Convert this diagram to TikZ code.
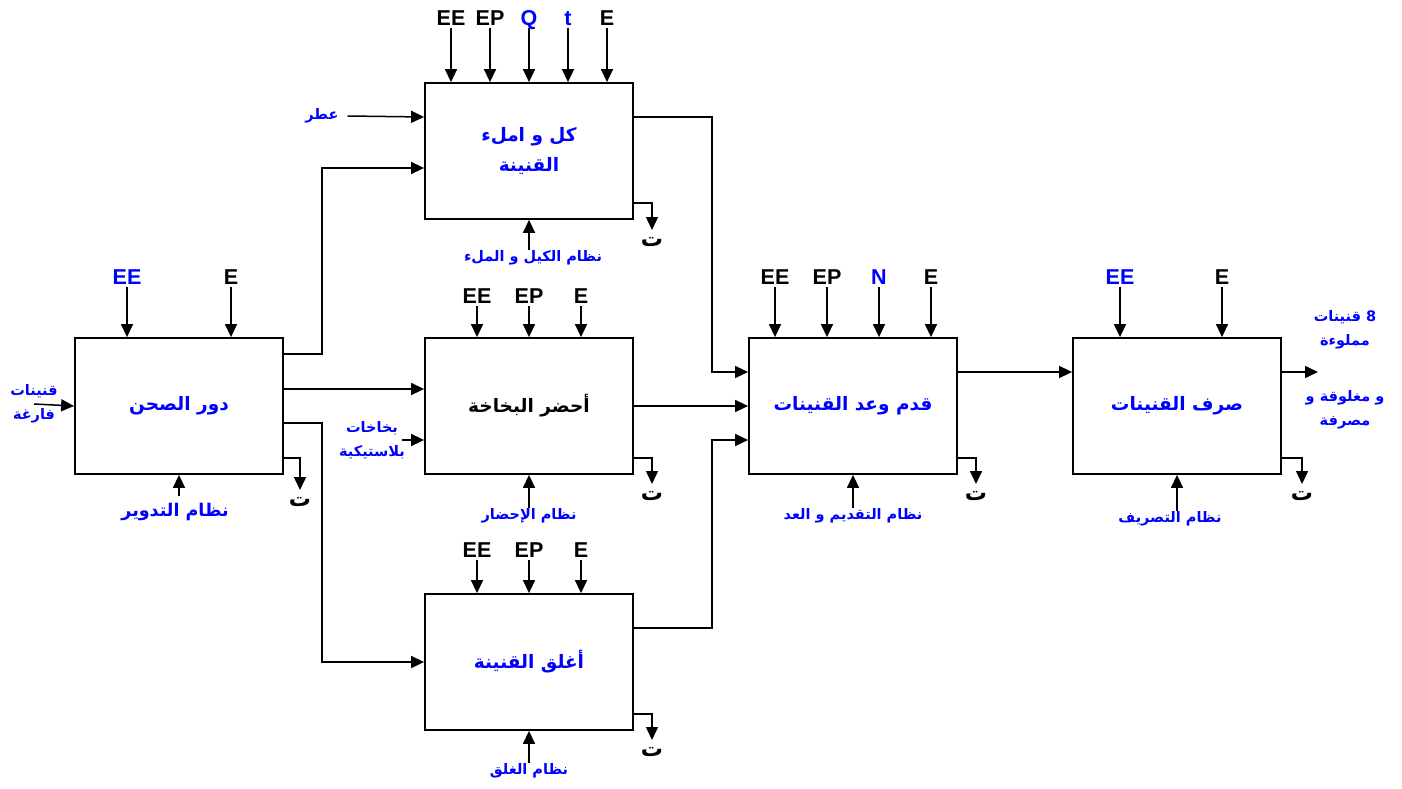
\documentclass[tikz,border=0pt]{standalone}
\usepackage{fontspec}
\setmainfont{Liberation Sans}
\newfontfamily\arabicfont[Script=Arabic]{DejaVu Sans}
\TeXXeTstate=1
\usetikzlibrary{arrows.meta}
\definecolor{pureblue}{RGB}{0,0,255}
\newcommand{\artxt}[1]{{\arabicfont\bfseries\beginR #1\endR}}
\begin{document}
\begin{tikzpicture}[x=1pt, y=-1pt, >={Triangle[length=13pt,width=12pt]},
  block/.style={draw, line width=1.8pt, minimum width=208pt, minimum height=136pt, inner sep=0pt, align=center, font=\fontsize{18.5}{30}\selectfont},
  var/.style={font=\fontsize{21.5}{24}\selectfont\bfseries, text height=15pt, text depth=0pt, inner sep=2.5pt},
  ctrl/.style={text=pureblue, align=center, inner sep=1pt, font=\fontsize{14.5}{24}\selectfont},
  waste/.style={anchor=north, text height=16pt, text depth=0pt, inner sep=0pt, font=\fontsize{22}{24}\selectfont},
  flow/.style={->, line width=1.5pt}]
\useasboundingbox (0,0) rectangle (1402,789);

% boxes
\node[block, text=pureblue] (roll) at (179,406) {\artxt{دور الصحن}};
\node[block, text=pureblue] (fill) at (529,151) {\artxt{كل و املء}\\\artxt{القنينة}};
\node[block] (spray) at (529,406) {\artxt{أحضر البخاخة}};
\node[block, text=pureblue] (close) at (529,662) {\artxt{أغلق القنينة}};
\node[block, text=pureblue] (count) at (853,406) {\artxt{قدم وعد القنينات}};
\node[block, text=pureblue] (out) at (1177,406) {\artxt{صرف القنينات}};

% top variables
\foreach \v/\x/\c [count=\i] in {EE/451/black, EP/490/black, Q/529/pureblue, t/568/pureblue, E/607/black}{
  \node[var, text=\c] (fv\i) at (\x,18) {\v};
  \draw[flow] (fv\i.south) -- (fv\i.south |- fill.north);
}
\foreach \v/\x/\c [count=\i] in {EE/127/pureblue, E/231/black}{
  \node[var, text=\c] (rv\i) at (\x,277) {\v};
  \draw[flow] (rv\i.south) -- (rv\i.south |- roll.north);
}
\foreach \v/\x [count=\i] in {EE/477, EP/529, E/581}{
  \node[var] (sv\i) at (\x,296) {\v};
  \draw[flow] (sv\i.south) -- (sv\i.south |- spray.north);
  \node[var] (cv\i) at (\x,550) {\v};
  \draw[flow] (cv\i.south) -- (cv\i.south |- close.north);
}
\foreach \v/\x/\c [count=\i] in {EE/775/black, EP/827/black, N/879/pureblue, E/931/black}{
  \node[var, text=\c] (nv\i) at (\x,277) {\v};
  \draw[flow] (nv\i.south) -- (nv\i.south |- count.north);
}
\foreach \v/\x/\c [count=\i] in {EE/1120/pureblue, E/1222/black}{
  \node[var, text=\c] (ov\i) at (\x,277) {\v};
  \draw[flow] (ov\i.south) -- (ov\i.south |- out.north);
}

% control systems
\node[ctrl, font=\fontsize{17.5}{24}\selectfont] (c1) at (175,512) {\artxt{نظام التدوير}};
\node[ctrl] (c2) at (533,258) {\artxt{نظام الكيل و الملء}};
\node[ctrl] (c3) at (529,516) {\artxt{نظام الإحضار}};
\node[ctrl] (c4) at (529,771) {\artxt{نظام الغلق}};
\node[ctrl] (c5) at (853,516) {\artxt{نظام التقديم و العد}};
\node[ctrl] (c6) at (1170,519) {\artxt{نظام التصريف}};
\draw[flow] ([yshift=6pt]c1.north -| roll.south) -- (roll.south);
\foreach \b/\c in {fill/c2, spray/c3, close/c4, count/c5, out/c6}
  \draw[flow] (\c.north -| \b.south) -- (\b.south);

% losses
\node[waste] (w1) at (300,490) {\artxt{ت}};
\node[waste] (w2) at (652,230) {\artxt{ت}};
\node[waste] (w3) at (652,484) {\artxt{ت}};
\node[waste] (w4) at (652,740) {\artxt{ت}};
\node[waste] (w5) at (976,484) {\artxt{ت}};
\node[waste] (w6) at (1302,484) {\artxt{ت}};
\foreach \b/\w in {roll/w1, fill/w2, spray/w3, close/w4, count/w5, out/w6}
  \draw[flow] ([yshift=17pt]\b.south east) -| (\w.north);

% inputs and outputs
\node[ctrl] (empty) at (34,404) {\artxt{قنينات}\\\artxt{فارغة}};
\node[ctrl] (perf) at (322,116) {\artxt{عطر}};
\node[ctrl] (plast) at (372,440) {\artxt{بخاخات}\\\artxt{بلاستيكية}};
\node[ctrl] (res1) at (1345,330) {\artxt{8 قنينات}\\\artxt{مملوءة}};
\node[ctrl] (res2) at (1345,410) {\artxt{و مغلوقة و}\\\artxt{مصرفة}};
\coordinate (done) at (1318,372);
\draw[flow] (empty.center) -- (roll.west);
\draw[flow] ([xshift=8pt]perf.east) -- ([yshift=34pt]fill.west);
\draw[flow] ([xshift=-4pt]plast.east) -- ([yshift=-34pt]spray.west);

% flows between the steps
\draw[flow] ([yshift=-17pt]roll.north east) -- ++(38,0) |- ([yshift=-17pt]fill.west);
\draw[flow] ([yshift=17pt]roll.east) -- ([yshift=17pt]spray.west);
\draw[flow] ([yshift=-17pt]roll.east) -- ++(38,0) |- (close.west);
\draw[flow] ([yshift=34pt]fill.east) -- ++(78,0) |- ([yshift=34pt]count.west);
\draw[flow] (spray.east) -- (count.west);
\draw[flow] ([yshift=34pt]close.east) -- ++(78,0) |- ([yshift=-34pt]count.west);
\draw[flow] ([yshift=34pt]count.east) -- ([yshift=34pt]out.west);
\draw[flow] ([yshift=34pt]out.east) -- (done);
\end{tikzpicture}
\end{document}
